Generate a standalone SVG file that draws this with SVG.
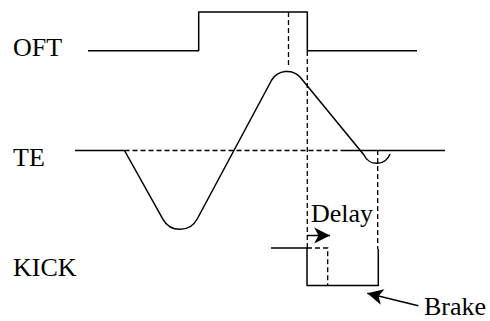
<svg xmlns="http://www.w3.org/2000/svg" width="490" height="321" viewBox="0 0 490 321">
<style>
text{font-family:"Liberation Serif","Times New Roman",serif;font-size:26px;fill:#000}
.s{fill:none;stroke:#000;stroke-width:1.5;stroke-linejoin:round}
.d{fill:none;stroke:#000;stroke-width:1.3;stroke-dasharray:5,3}
</style>
<defs>
<marker id="ah" markerUnits="userSpaceOnUse" markerWidth="20" markerHeight="20" viewBox="-17 -9 19 18" refX="0" refY="0" orient="auto">
<path d="M0,0 L-15,-7.5 L-11,0 L-15,7.5 Z" fill="#000"/>
</marker>
</defs>
<rect width="490" height="321" fill="#fff"/>
<g id="labels">
<text x="13" y="56">OFT</text>
<text x="13" y="166">TE</text>
<text x="13" y="276">KICK</text>
<text x="311" y="222">Delay</text>
<text x="424" y="315">Brake</text>
</g>
<g id="oft">
<path class="s" d="M88,50.7 H198.7 V12 H307.3 V50.7 H417"/>
</g>
<g id="te">
<path class="s" d="M75,150.5 H124.5"/>
<path class="d" d="M124.5,150.5 H343"/>
<path class="s" d="M343,150.5 H445"/>
<path class="s" d="M124.5,150.5 L163,219.3 A19.5,19.5 0 0 0 197.2,219 L271.7,80 A18,18 0 0 1 300,77 L364,155 A14,14 0 0 0 390,154"/>
</g>
<g id="kick">
<path class="s" d="M271,248 H307 V285.5 H378.3 V249"/>
<path class="d" d="M307,248 H327.7 V285.5"/>
</g>
<g id="connectors">
<path class="d" d="M288.5,12 V68"/>
<path class="d" d="M307.3,51 V248"/>
<path class="d" d="M377.7,150 V249"/>
<line class="s" x1="307" y1="235.5" x2="330" y2="235.5" marker-end="url(#ah)"/>
<line class="s" x1="418.3" y1="305.7" x2="367.3" y2="293.3" marker-end="url(#ah)"/>
</g>
</svg>
